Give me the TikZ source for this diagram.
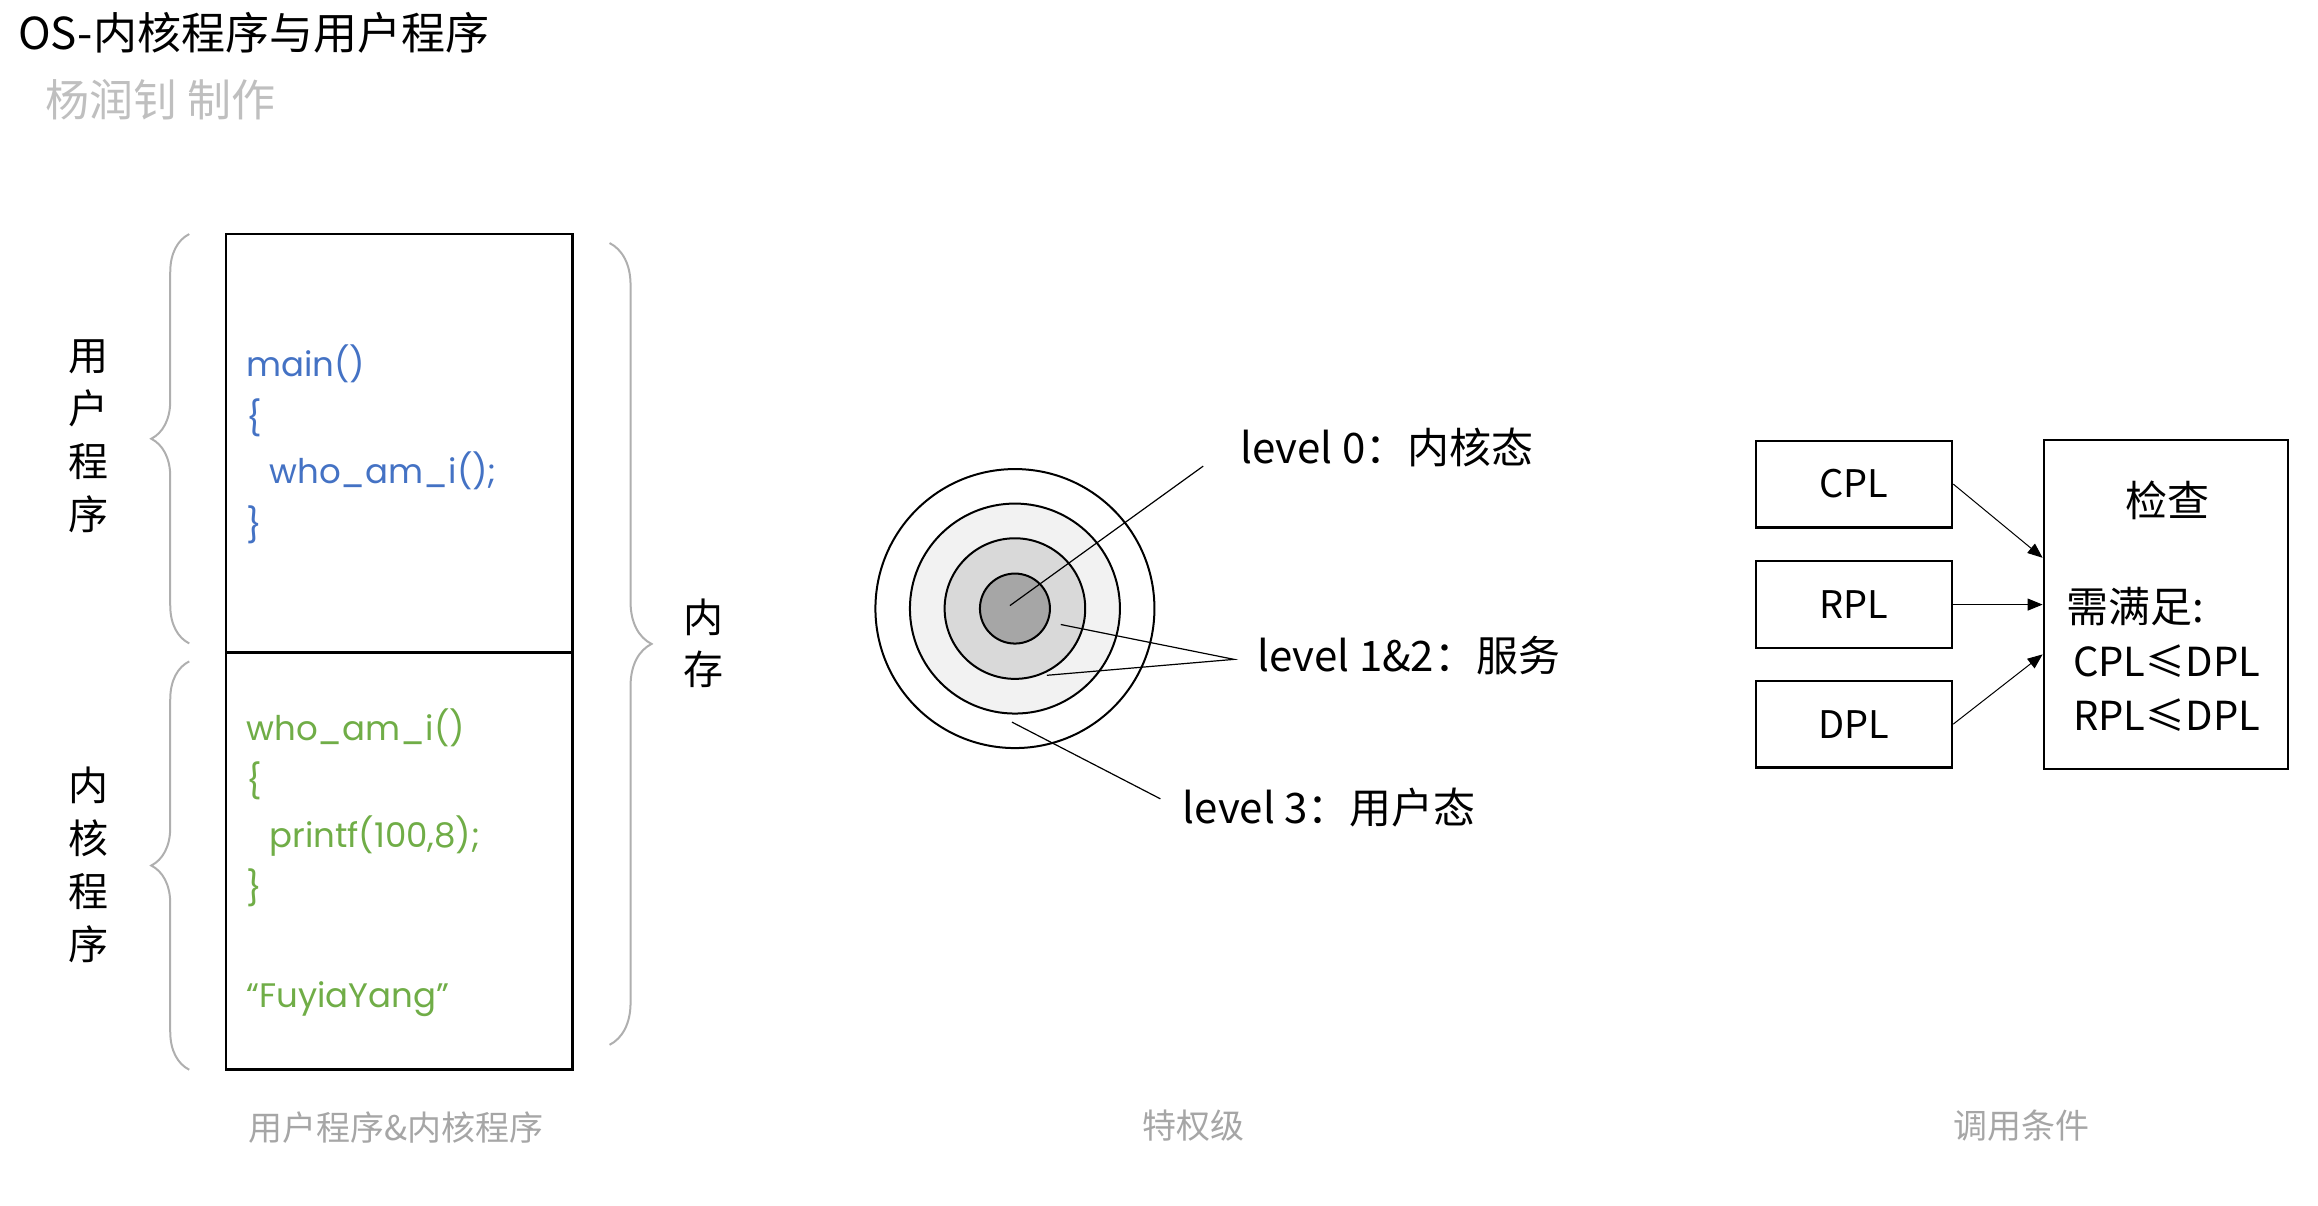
\documentclass[tikz,border=0pt]{standalone}
\usepackage{fontspec}
\setmainfont{Noto Sans CJK SC}
\newfontfamily\codefont{Poppins}
\usetikzlibrary{arrows.meta,decorations.pathreplacing}
\definecolor{codeblue}{HTML}{4472C4}
\definecolor{codegreen}{HTML}{70AD47}
\definecolor{capgray}{HTML}{A6A6A6}
\definecolor{subgray}{HTML}{BFBFBF}
\definecolor{bracegray}{HTML}{AFAFAF}
\definecolor{ringA}{HTML}{F2F2F2}
\definecolor{ringB}{HTML}{D9D9D9}
\definecolor{ringC}{HTML}{A6A6A6}
\begin{document}
\begin{tikzpicture}[x=0.498pt,y=-0.498pt,
  txt/.style={inner sep=0pt,font=\fontsize{21}{26.5}\selectfont},
  code/.style={inner sep=0pt,align=left,anchor=north west,font=\codefont\fontsize{17}{26.75}\selectfont},
  caption/.style={inner sep=0pt,text=capgray,font=\fontsize{17}{20}\selectfont},
  brc/.style={draw=bracegray,line width=1pt,decorate,decoration={brace,amplitude=19pt}},
  membox/.style={draw,line width=1.3pt,minimum width=173.3pt,inner sep=0pt},
  plbox/.style={draw,line width=1.2pt,minimum width=98pt,minimum height=43.3pt,inner sep=0pt,font=\fontsize{19}{22}\selectfont},
  ring/.style={circle,draw,line width=1pt,inner sep=0pt},
  leader/.style={line width=0.6pt},
  arr/.style={-{Triangle[length=7.5pt,width=6pt]},line width=0.5pt}
]
\useasboundingbox (0,0) rectangle (2327.3,1210.8);

% title
\node[txt,anchor=west,font=\fontsize{22}{26}\selectfont] (title) at (18,33) {OS-内核程序与用户程序};
\node[txt,anchor=west,text=subgray,font=\fontsize{22}{26}\selectfont] (author) at (45,100) {杨润钊 制作};

% memory: user part and kernel part
\node[membox,minimum height=209.2pt] (usr) at (401,445) {};
\node[membox,minimum height=208.7pt] (krn) at (401,864.5) {};
\node[code,text=codeblue] (usrcode) at (247,346)
  {main()\\\{\\\hspace*{11.5pt}who\_am\_i();\\\}};
\node[code,text=codegreen] (krncode) at (247,711)
  {who\_am\_i()\\\{\\\hspace*{11.5pt}printf(100,8);\\\}\\[26.75pt]“FuyiaYang”};

\draw[brc] (190,646) -- (190,235);
\draw[brc] (190,1074) -- (190,664);
\draw[brc,decoration={brace,amplitude=21pt}] (612,244) -- (612,1049);
\node[txt,align=center,font=\fontsize{20}{26.5}\selectfont] (usrlbl) at (89,438) {用\\户\\程\\序};
\node[txt,align=center,font=\fontsize{20}{26.5}\selectfont] (krnlbl) at (89,868) {内\\核\\程\\序};
\node[txt,align=center,font=\fontsize{20}{26}\selectfont] (memlbl) at (706,646) {内\\存};

% privilege rings
\coordinate (ctr) at (1019,611);
\foreach \r/\c [count=\i] in {139.5/white,105/ringA,70.3/ringB,35/ringC}
  \node[ring,fill=\c,minimum size=\r pt] (ring\i) at (ctr) {};
\node[txt,anchor=west] (lv0) at (1245,449) {level 0：内核态};
\node[txt,anchor=west] (lv12) at (1262,658) {level 1\&2：服务};
\node[txt,anchor=west] (lv3) at (1187,811) {level 3：用户态};
\coordinate (p0) at (1014,608);
\coordinate (q0) at (1208,468);
\coordinate (p1) at (1065,627);
\coordinate (p2) at (1051,678);
\coordinate (q12) at (1239,662);
\coordinate (p3) at (1016,725);
\coordinate (q3) at (1165,802);
\draw[leader] (p0) -- (q0);
\draw[leader] (p1) -- (q12) -- (p2);
\draw[leader] (p3) -- (q3);

% call conditions
\node[plbox] (cpl) at (1861.5,486) {CPL};
\node[plbox] (rpl) at (1861.5,607) {RPL};
\node[plbox] (dpl) at (1861.5,727) {DPL};
\node[draw,line width=1.2pt,minimum width=122pt,minimum height=164.3pt,inner sep=0pt] (chk) at (2174.5,607) {};
\node[txt] (chkttl) at (2176,502) {检查};
\node[txt,anchor=west] (need) at (2074,609) {需满足:};
\node[txt,anchor=west,font=\fontsize{20}{24}\selectfont] (cond1) at (2081,664) {CPL≤DPL};
\node[txt,anchor=west,font=\fontsize{20}{24}\selectfont] (cond2) at (2081,718) {RPL≤DPL};
\draw[arr] (cpl.east) -- ([yshift=23.4pt]chk.west);
\draw[arr] (rpl.east) -- (chk.west);
\draw[arr] (dpl.east) -- ([yshift=-24.9pt]chk.west);

% captions
\node[caption] (cap1) at (398,1132) {用户程序\&内核程序};
\node[caption] (cap2) at (1198,1130) {特权级};
\node[caption] (cap3) at (2030,1130) {调用条件};
\end{tikzpicture}
\end{document}
